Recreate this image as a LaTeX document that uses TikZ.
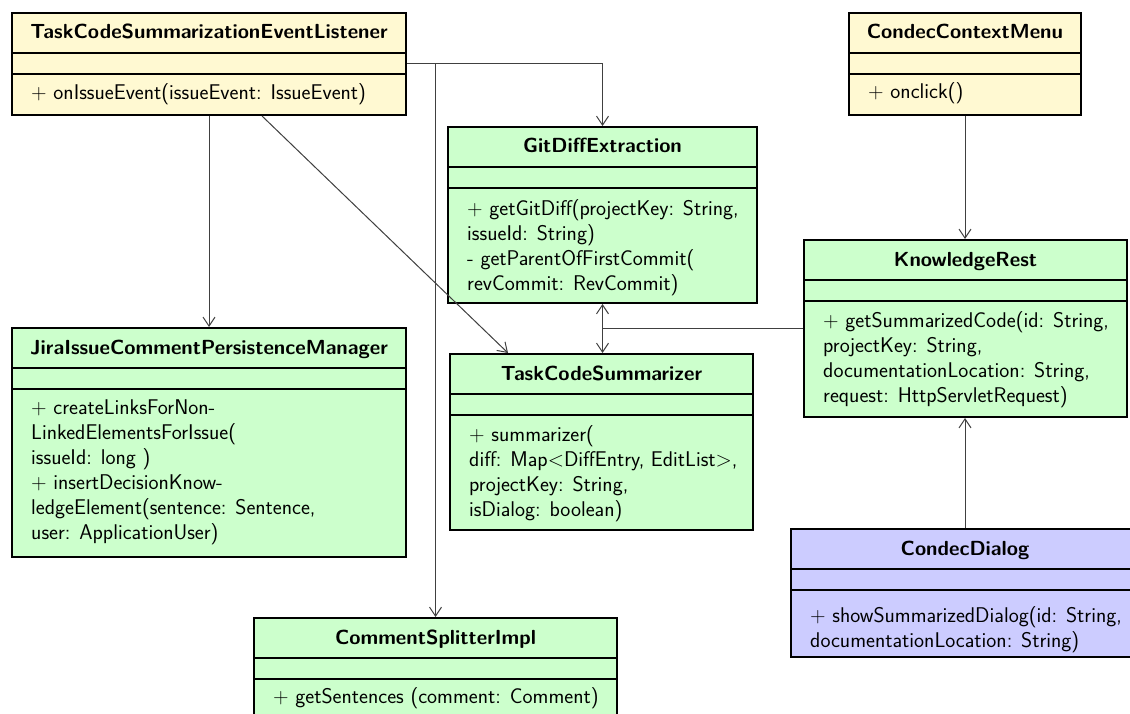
\documentclass[tikz,border=0pt]{standalone}
\usetikzlibrary{arrows.meta,fit}
\definecolor{clsyellow}{RGB}{255,249,210}
\definecolor{clsgreen}{RGB}{204,255,204}
\definecolor{clsblue}{RGB}{204,204,255}
\tikzset{
  classbox/.style={draw=black, line width=2pt, inner sep=0pt},
  classsep/.style={draw=black, line width=2pt},
  classtitle/.style={font=\fontsize{20.4}{25}\selectfont\sffamily\bfseries, anchor=base, inner sep=0pt},
  classmethods/.style={font=\fontsize{21.3}{25}\selectfont\sffamily, anchor=north west, align=left, inner sep=0pt},
  dep/.style={draw=black!75, line width=1pt, -{Straight Barb[length=9pt,width=12pt]}},
  plainline/.style={draw=black!75, line width=1pt}
}
% \umlclass[first baseline offset]{name}{fill}{left}{top}{right}{bottom}{title}{methods}
\newcommand\umlclass[9][87]{%
  \node[classbox, fill=#3, fit={(#4,#5) (#6,#7)}] (#2) {};
  \draw[classsep] (#4,{#5+40}) -- (#6,{#5+40});
  \draw[classsep] (#4,{#5+61}) -- (#6,{#5+61});
  \node[classtitle] (#2-t) at ({(#4+#6)/2},{#5+26}) {#8};
  \node[classmethods] (#2-m) at ({#4+19},{#5+#1-15.5}) {#9};
}
\begin{document}
\begin{tikzpicture}[x=1pt,y=-1pt]
\clip (0,0) rectangle (1130,714);
\fill[white] (0,0) rectangle (1130,714);

\umlclass[86]{L}{clsyellow}{12}{13}{406}{115}{TaskCodeSummarizationEventListener}
  {+ onIssueEvent(issueEvent: IssueEvent)}
\umlclass[85]{M}{clsyellow}{849}{13}{1081}{115}{CondecContextMenu}
  {+ onclick()}
\umlclass[88]{G}{clsgreen}{448}{127}{757}{303}{GitDiffExtraction}
  {+ getGitDiff(projectKey: String,\\issueId: String)\\- getParentOfFirstCommit(\\revCommit: RevCommit)}
\umlclass{K}{clsgreen}{804}{240}{1127}{417}{KnowledgeRest}
  {+ getSummarizedCode(id: String,\\projectKey: String,\\documentationLocation: String,\\request: HttpServletRequest)}
\umlclass{J}{clsgreen}{12}{328}{406}{557}{JiraIssueCommentPersistenceManager}
  {+ createLinksForNon-\\LinkedElementsForIssue(\\issueId: long )\\+ insertDecisionKnow-\\ledgeElement(sentence: Sentence,\\user: ApplicationUser)}
\umlclass[87]{S}{clsgreen}{450}{354}{753}{530}{TaskCodeSummarizer}
  {+ summarizer(\\diff: Map<DiffEntry, EditList>,\\projectKey: String,\\isDialog: boolean)}
\umlclass[93]{D}{clsblue}{791}{529}{1139}{657}{CondecDialog}
  {+ showSummarizedDialog(id: String,\\documentationLocation: String)}
\umlclass[85]{C}{clsgreen}{254}{618}{617}{730}{CommentSplitterImpl}
  {+ getSentences (comment: Comment)}

% dependencies
\draw[dep] (L.south) -- (J.north);
\draw[dep] ([xshift=53pt]L.south) -- ([xshift=-93.5pt]S.north);
\draw[dep] (L.east) -| (G.north);
\draw[dep] (L.east) -| (C.north);
\draw[dep, {Straight Barb[length=9pt,width=12pt]}-{Straight Barb[length=9pt,width=12pt]}] (G.south) -- (G.south |- S.north);
\draw[plainline] (K.west) -- (K.west -| G.south);
\draw[dep] (M.south) -- (M.south |- K.north);
\draw[dep] (D.north -| M.south) -- (K.south -| M.south);
\end{tikzpicture}
\end{document}
